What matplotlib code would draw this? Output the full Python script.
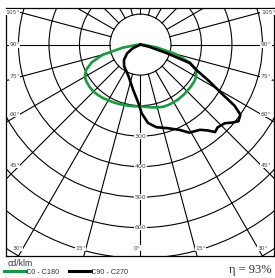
import matplotlib
matplotlib.use('Agg')
import matplotlib.pyplot as plt
import matplotlib.patches as patches
import numpy as np

# luminous intensity (cd/klm), gamma in degrees from nadir, negative = left half
green_gamma = [-90, -85, -80, -75, -70, -65, -60, -55, -50, -45, -40, -35, -30, -25, -20, -15, -10, -5,
               0, 5, 10, 15, 20, 25, 30, 35, 40, 45, 50, 55, 60, 65, 70, 75, 80, 85, 90]
green_cd = [0, 15, 60, 128, 170, 197, 211, 215, 217, 218, 216, 214, 211, 209, 207, 205, 204, 203,
            202, 205, 209, 213, 217, 218, 218, 218, 217, 216, 215, 214, 211, 202, 172, 118, 55, 15, 0]

black_gamma = [-80, -65, -57, -47, -37, -22, -9, -2, 1, 5.5, 11, 18, 25, 29, 35, 38, 40.5, 43, 47,
               50, 52, 55, 57, 59, 62, 65, 69.5, 72, 76, 80]
black_cd = [0, 27, 52, 74, 89, 108, 151, 192, 225, 258, 276, 288, 309, 330, 341, 357, 377, 371, 378,
            397, 408, 400, 368, 310, 255, 209, 173, 91, 30, 0]

rings = [100, 200, 300, 400, 500, 600, 700, 800]
ring_labels = [300, 400, 500, 600]
side_angles = [45, 60, 75, 90, 105]
bottom_angles = [0, 15, 30]
eta = 93

GREEN = '#1a9a3e'
GRAY = '#444444'


def to_xy(gamma, cd):
    g = np.radians(np.array(gamma, dtype=float))
    r = np.array(cd, dtype=float)
    return r * np.sin(g), -r * np.cos(g)


fig = plt.figure(figsize=(2.75, 2.78), dpi=100)
ax = fig.add_axes([6 / 275, 22 / 278, 268 / 275, 248 / 278])
ax.set_xlim(-441, 438)
ax.set_ylim(-693, 120)
ax.set_xticks([])
ax.set_yticks([])
for s in ax.spines.values():
    s.set_linewidth(0.9)
    s.set_color('black')

# grid: circles and radial lines outside the inner circle
for r in rings:
    ax.add_patch(patches.Circle((0, 0), r, fill=False, lw=0.8, ec='black', zorder=1))
for a in range(0, 360, 15):
    x, y = to_xy([a, a], [rings[0], 1200])
    ax.plot(x, y, color='black', lw=0.8, zorder=1)

# angle labels on the sides
lab_x = 395
for a in side_angles:
    y = -lab_x / np.tan(np.radians(a))
    for sgn, ha in [(-1, 'right'), (1, 'left')]:
        ax.text(sgn * lab_x, y, '%d°' % a, fontsize=4.3, color=GRAY, ha=ha, va='center',
                bbox=dict(fc='white', ec='none', pad=0.3), zorder=3)

lab_y = -667
for a in bottom_angles:
    x = -lab_y * np.tan(np.radians(a))
    sides = [(-1, 'right')] if a == 0 else [(-1, 'right'), (1, 'left')]
    for sgn, ha in sides:
        ax.text(sgn * x, lab_y, '%d°' % a, fontsize=4.3, color=GRAY, ha=ha, va='center',
                bbox=dict(fc='white', ec='none', pad=0.3), zorder=3)

for r in ring_labels:
    ax.text(0, -r, str(r), fontsize=4.5, color=GRAY, ha='center', va='center',
            bbox=dict(fc='white', ec='none', pad=0.2), zorder=3)

# curves
gx, gy = to_xy(green_gamma, green_cd)
bx, by = to_xy(black_gamma, black_cd)
l1, = ax.plot(gx, gy, color=GREEN, lw=1.9, zorder=4, solid_joinstyle='round')
l2, = ax.plot(bx, by, color='black', lw=1.9, zorder=5, solid_joinstyle='round')

fig.text(8 / 275, 1 - 263 / 278, 'cd/klm', fontsize=6.2, color='#333333',
         family='Liberation Sans', va='center')
leg = fig.legend([l1, l2], ['C0 - C180', 'C90 - C270'], loc='center left',
                 bbox_to_anchor=(4 / 275, 1 - 272 / 278), ncol=2, frameon=False,
                 prop={'family': 'Liberation Sans', 'size': 5.2}, handlelength=3.0,
                 handletextpad=0.1, columnspacing=1.3, borderpad=0, borderaxespad=0)
for h in leg.get_lines():
    h.set_linewidth(2.2)
for t in leg.get_texts():
    t.set_color('#333333')

fig.text(272 / 275, 1 - 270 / 278, 'η = %d%%' % eta, fontsize=9, color='#333333',
         family='Liberation Serif', ha='right', va='center')

fig.savefig('out.png', dpi=100)
